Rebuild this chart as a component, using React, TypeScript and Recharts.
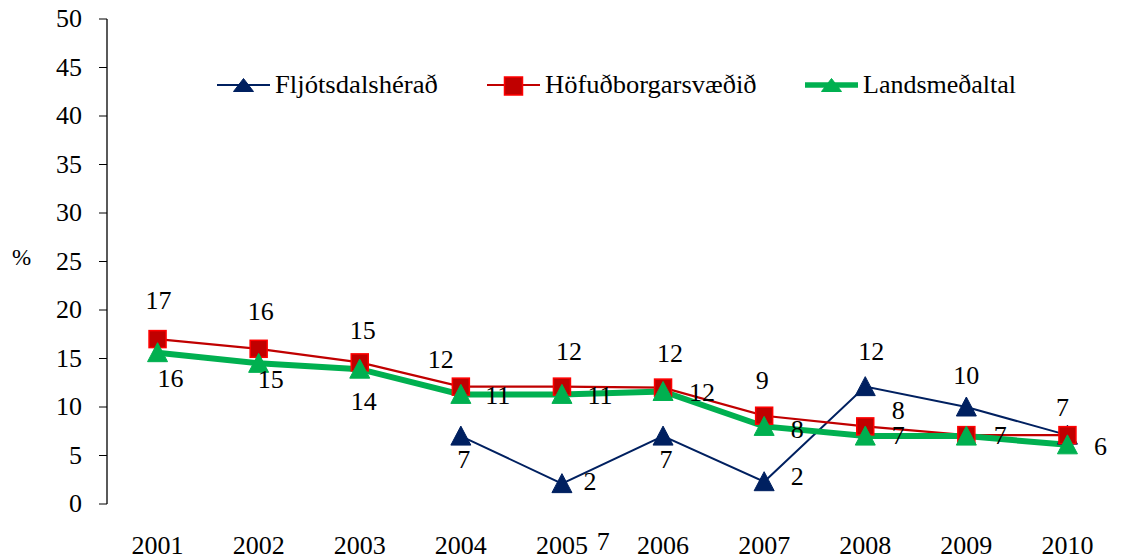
import React from 'react';
import { LineChart, Line, XAxis, YAxis, LabelList, Legend } from 'recharts';

const years = ['2001', '2002', '2003', '2004', '2005', '2006', '2007', '2008', '2009', '2010'];
const fljotsdalsherad: (number | null)[] = [null, null, null, 7.0, 2.1, 7.0, 2.3, 12.1, 10.0, 7.1];
const hofudborgarsvaedid: (number | null)[] = [17.0, 16.0, 14.6, 12.1, 12.1, 12.0, 9.1, 8.0, 7.1, 7.1];
const landsmedaltal: (number | null)[] = [15.6, 14.5, 13.9, 11.3, 11.3, 11.6, 8.0, 7.0, 7.0, 6.1];
const yTicks = [0, 5, 10, 15, 20, 25, 30, 35, 40, 45, 50];
const seriesNames = ['Fljótsdalshérað', 'Höfuðborgarsvæðið', 'Landsmeðaltal'];
const yUnit = '%';

// label placement (style, not data)
const navyLabelOffsets: ([number, number] | null)[] = [null, null, null, [3, 24], [28, -2], [3, 24], [33, -5], [6, -35], [0, -31], null];
const redLabelOffsets: ([number, number] | null)[] = [[1, -38], [2, -37], [3, -31], [-20, -27], [7, -35], [7, -34], [-2, -35], [33, -15], [-363, 107], [-5, -27]];
const greenLabelOffsets: ([number, number] | null)[] = [[13, 26], [12, 17], [4, 33], [37, 2], [38, 2], [39, 2], [33, 4], [33, 0], [34, 0], [33, 2]];

const data = years.map((y, i) => ({
  year: y,
  fl: fljotsdalsherad[i],
  hb: hofudborgarsvaedid[i],
  lm: landsmedaltal[i],
}));

const FONT = 'Liberation Serif';
const NAVY = '#002060';
const RED_LINE = '#C00000';
const RED_FILL = '#C00000';
const RED_EDGE = '#FF0000';
const GREEN = '#00B050';

const HtmlText = ({ x, y, anchor = 'middle', size, w = 80, children }: any) => {
  const h = Math.round(size * 1.6);
  const left = anchor === 'middle' ? x - w / 2 : anchor === 'end' ? x - w : x;
  return (
    <foreignObject x={left} y={y - h / 2} width={w} height={h} style={{ overflow: 'visible' }}>
      <div
        style={{
          width: w,
          height: h,
          lineHeight: `${h}px`,
          textAlign: anchor === 'middle' ? 'center' : anchor === 'end' ? 'right' : 'left',
          fontFamily: FONT,
          fontSize: size,
          color: '#000',
          whiteSpace: 'nowrap',
        }}
      >
        {children}
      </div>
    </foreignObject>
  );
};

const Triangle = (cx: number, cy: number, color: string, key?: any, w = 10, h = 10) => (
  <polygon key={key} points={`${cx},${cy - h} ${cx + w},${cy + h - 1} ${cx - w},${cy + h - 1}`} fill={color} stroke={color} strokeWidth={1} />
);
const Square = (cx: number, cy: number, key?: any, s = 17) => (
  <rect key={key} x={cx - s / 2} y={cy - s / 2} width={s} height={s} fill={RED_FILL} stroke={RED_EDGE} strokeWidth={1.5} />
);

const makeDot = (kind: 'navy' | 'red' | 'green') => (props: any) => {
  const { cx, cy, index, value } = props;
  if (cx == null || cy == null || value == null || (Array.isArray(value) && value[1] == null)) return <g key={`d-${kind}-${index}`} />;
  if (kind === 'red') return Square(cx, cy, `d-${kind}-${index}`);
  return Triangle(cx, cy, kind === 'navy' ? NAVY : GREEN, `d-${kind}-${index}`);
};

const makeLabel = (offsets: ([number, number] | null)[]) => (props: any) => {
  const { x, y, value, index } = props;
  if (value == null || x == null || y == null) return null;
  const off = offsets[index];
  if (!off) return null;
  return (
    <HtmlText x={x + off[0]} y={y + off[1]} size={26} w={50}>
      {Math.round(value)}
    </HtmlText>
  );
};

const YTick = (props: any) => {
  const { x, y, payload } = props;
  return (
    <HtmlText x={x} y={y} anchor="end" size={26} w={50}>
      {payload.value}
    </HtmlText>
  );
};

const XTick = (props: any) => {
  const { x, y, payload } = props;
  return (
    <HtmlText x={x} y={y + 10} size={26} w={80}>
      {payload.value}
    </HtmlText>
  );
};

const legendItems = [
  { name: seriesNames[0], color: NAVY, width: 2, x: 217, kind: 'navy', target: 163 },
  { name: seriesNames[1], color: RED_LINE, width: 2, x: 487, kind: 'red', target: 212 },
  { name: seriesNames[2], color: GREEN, width: 5.5, x: 805, kind: 'green', target: 153 },
];

const stretchTo = (target: number) => (el: HTMLSpanElement | null) => {
  if (!el) return;
  const apply = () => {
    el.style.transform = 'none';
    const w = el.offsetWidth;
    if (w > 0) el.style.transform = `scaleX(${target / w})`;
  };
  apply();
  try {
    (document as any).fonts?.ready?.then(apply);
  } catch (e) {
    /* ignore */
  }
  setTimeout(apply, 50);
  setTimeout(apply, 300);
};

const renderLegend = () => (
  <div style={{ position: 'relative', width: 1121, height: 40 }}>
    {legendItems.map((it) => (
      <React.Fragment key={it.name}>
        <svg width={56} height={40} style={{ position: 'absolute', left: it.x, top: 0 }}>
          <line x1={0} x2={53} y1={20} y2={20} stroke={it.color} strokeWidth={it.width} />
          {it.kind === 'red' ? Square(26.5, 21, undefined, 18) : Triangle(26.5, 20.5, it.color, undefined, 10, 7)}
        </svg>
        <span
          ref={stretchTo(it.target)}
          style={{
            position: 'absolute',
            left: it.x + 58,
            top: 0,
            height: 40,
            lineHeight: '40px',
            fontFamily: FONT,
            fontSize: 26,
            color: '#000',
            whiteSpace: 'nowrap',
            display: 'inline-block',
            transformOrigin: 'left center',
          }}
        >
          {it.name}
        </span>
      </React.Fragment>
    ))}
  </div>
);

export default function App() {
  return (
    <div style={{ position: 'relative', width: 1121, height: 560, margin: '-8px 0 0 -8px', fontFamily: FONT }}>
      <div
        style={{
          position: 'absolute',
          left: 12,
          top: 243,
          height: 30,
          lineHeight: '30px',
          fontFamily: FONT,
          fontSize: 23,
          color: '#000',
          zIndex: 2,
        }}
      >
        {yUnit}
      </div>
      <LineChart width={1121} height={560} data={data} margin={{ top: 19, right: 3, bottom: 0, left: 0 }}>
        <XAxis
          xAxisId="frame"
          type="number"
          domain={[0, 10]}
          ticks={[0, 1, 2, 3, 4, 5, 6, 7, 8, 9, 10]}
          allowDataOverflow
          tick={false}
          tickSize={8}
          height={0}
          axisLine={{ stroke: '#000', strokeWidth: 1.3 }}
          tickLine={{ stroke: '#000', strokeWidth: 1 }}
        />
        <XAxis
          xAxisId="cat"
          dataKey="year"
          type="category"
          padding={{ left: 50.55, right: 50.55 }}
          axisLine={false}
          tickLine={false}
          tickSize={0}
          tickMargin={32}
          height={56}
          interval={0}
          tick={XTick}
        />
        <YAxis
          domain={[0, 50]}
          ticks={yTicks}
          interval={0}
          width={107}
          tickSize={8}
          tickMargin={17}
          axisLine={{ stroke: '#000', strokeWidth: 1.3 }}
          tickLine={{ stroke: '#000', strokeWidth: 1 }}
          tick={YTick}
        />
        <Legend
          layout="horizontal"
          verticalAlign="middle"
          align="center"
          wrapperStyle={{ top: 65, left: 0, width: 1121, height: 40 }}
          content={renderLegend}
        />
        <Line
          xAxisId="cat"
          dataKey="fl"
          name={seriesNames[0]}
          stroke={NAVY}
          strokeWidth={2}
          dot={makeDot('navy')}
          activeDot={false}
          connectNulls={false}
          isAnimationActive={false}
        >
          <LabelList dataKey="fl" content={makeLabel(navyLabelOffsets)} />
        </Line>
        <Line
          xAxisId="cat"
          dataKey="hb"
          name={seriesNames[1]}
          stroke={RED_LINE}
          strokeWidth={2.2}
          dot={makeDot('red')}
          activeDot={false}
          isAnimationActive={false}
        >
          <LabelList dataKey="hb" content={makeLabel(redLabelOffsets)} />
        </Line>
        <Line
          xAxisId="cat"
          dataKey="lm"
          name={seriesNames[2]}
          stroke={GREEN}
          strokeWidth={6}
          dot={makeDot('green')}
          activeDot={false}
          isAnimationActive={false}
        >
          <LabelList dataKey="lm" content={makeLabel(greenLabelOffsets)} />
        </Line>
      </LineChart>
    </div>
  );
}
